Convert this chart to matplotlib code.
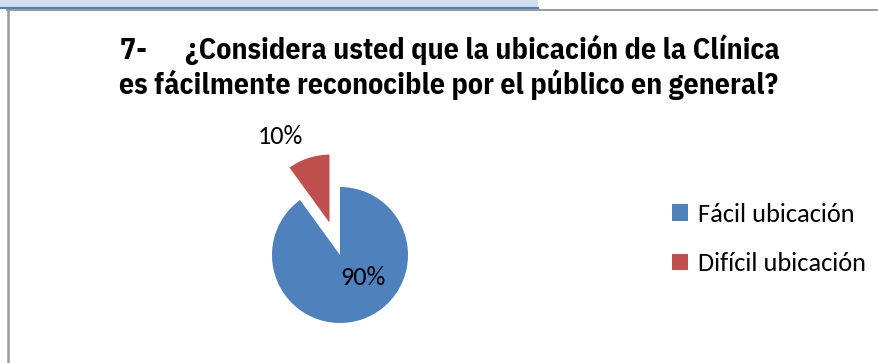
import matplotlib
matplotlib.use('Agg')
from matplotlib import pyplot as plt
from matplotlib import font_manager
from matplotlib.patches import Rectangle
from matplotlib.lines import Line2D

# Chart data
categories = ['Fácil ubicación', 'Difícil ubicación']
values = [90, 10]
colors = ['#4F81BD', '#C0504D']
title_lines = ['7-      ¿Considera usted que la ubicación de la Clínica',
               'es fácilmente reconocible por el público en general?']

W, H = 879, 363
fig = plt.figure(figsize=(W / 100, H / 100), dpi=100)
renderer = fig.canvas.get_renderer()

# Header band and frame lines
fig.patches.append(Rectangle((0, 1 - 7 / H), 538 / W, 7 / H, transform=fig.transFigure,
                             facecolor='#D3DFEE', edgecolor='none'))
fig.lines.append(Line2D([0, 538 / W], [1 - 8 / H, 1 - 8 / H], transform=fig.transFigure,
                        color='#4F81BD', linewidth=1.6))
fig.lines.append(Line2D([7 / W, 1], [1 - 10 / H, 1 - 10 / H], transform=fig.transFigure,
                        color='#999999', linewidth=1.4))
fig.lines.append(Line2D([8 / W, 8 / W], [0, 1 - 10 / H], transform=fig.transFigure,
                        color='#999999', linewidth=1.8))

# Title font: pick a bold condensed face whose width is nearest the original (Arial Narrow)
bold_names = set(f.name for f in font_manager.fontManager.ttflist if f.weight in ('bold', 700, 600, 'semibold')
                 or (isinstance(f.weight, int) and f.weight >= 600))
candidates = ['Roboto Condensed', 'Fira Sans Condensed', 'IBM Plex Sans Condensed',
              'Open Sans Condensed', 'PT Sans Narrow', 'Asap Condensed', 'Sofia Sans Semi Condensed']
target_w = 660
best, best_w = 'Roboto Condensed', None
for name in candidates:
    if name not in bold_names:
        continue
    t = fig.text(0, 0, title_lines[0], fontsize=20, fontweight='bold', family=[name, 'DejaVu Sans'])
    w = t.get_window_extent(renderer).width
    t.remove()
    if best_w is None or abs(w - target_w) < abs(best_w - target_w):
        best, best_w = name, w
title_size = 20
if best_w:
    title_size = max(18.5, min(22, 20 * target_w / best_w))
title_font = [best, 'Liberation Sans', 'DejaVu Sans']

fig.text(450 / W, 1 - 59 / H, title_lines[0], ha='center', va='baseline',
         fontsize=title_size, fontweight='bold', family=title_font)
fig.text(449 / W, 1 - 94 / H, title_lines[1], ha='center', va='baseline',
         fontsize=title_size, fontweight='bold', family=title_font)

# Pie: centre (340, 255) px, radius 68 px
r = 68
half = 2.0 * r
cx, cy = 340, 255
label_font = ['Carlito', 'DejaVu Sans']
ax = fig.add_axes([(cx - half) / W, (H - cy - half) / H, 2 * half / W, 2 * half / H])
wedges, texts, autotexts = ax.pie(values, colors=colors, startangle=90, counterclock=False,
                                  explode=[0, 0.5], autopct='%1.0f%%',
                                  textprops={'fontsize': 19, 'family': label_font,
                                             'color': 'black'})
ax.set_xlim(-2, 2)
ax.set_ylim(-2, 2)
ax.set_aspect('equal')
ax.axis('off')
autotexts[0].set_position((0.34, -0.33))
autotexts[1].set_position((-0.87, 1.74))

# Legend
handles = [Rectangle((0, 0), 1, 1, facecolor=c) for c in colors]
fig.legend(handles, categories, loc='center left', bbox_to_anchor=(648 / W, 1 - 239 / H),
           frameon=False, prop={'family': label_font, 'size': 19},
           handlelength=0.6, handleheight=0.6, handletextpad=0.4, labelspacing=1.0)

fig.savefig('out.png', dpi=100)
